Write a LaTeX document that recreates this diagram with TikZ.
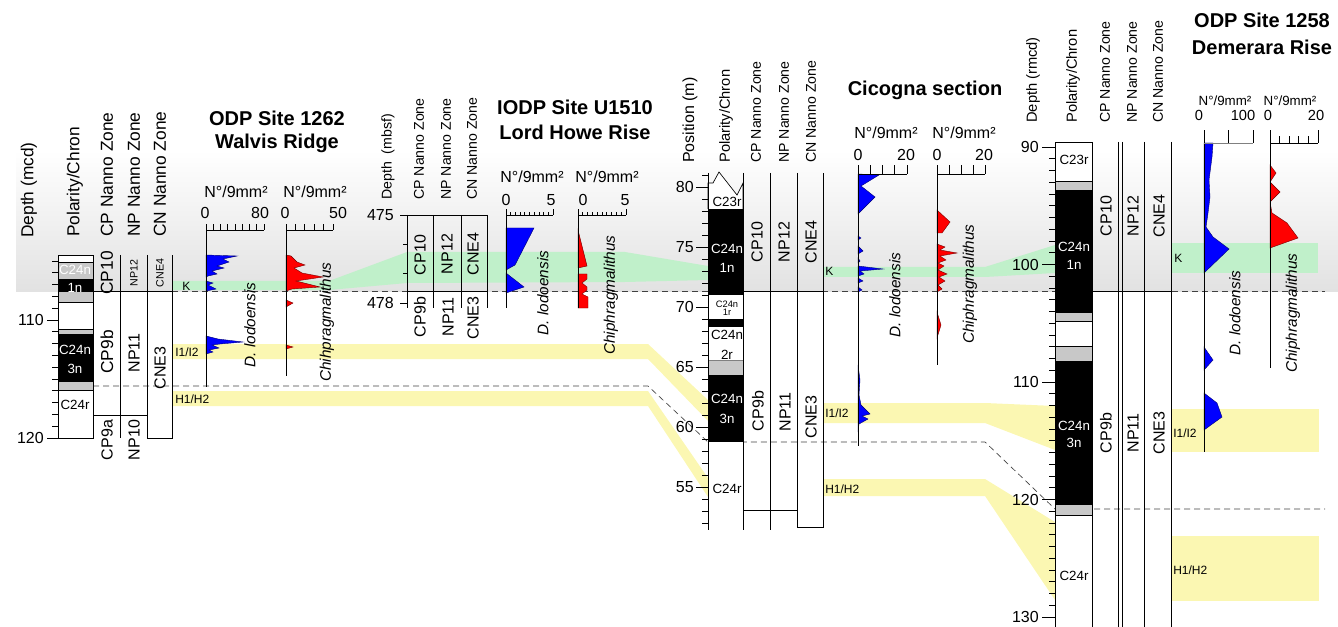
\documentclass[tikz,border=0pt]{standalone}
\usepackage{fontspec}
\setmainfont{Liberation Sans}
\usepackage{tikz}
\usetikzlibrary{calc}

\definecolor{kgreen}{RGB}{192,240,202}
\definecolor{hyellow}{RGB}{251,247,178}
\definecolor{polgray}{RGB}{200,200,200}
\definecolor{bggray}{RGB}{226,226,226}
\newcommand{\fsz}[1]{\fontsize{#1}{#1}\selectfont}

\tikzset{
  hdr/.style={rotate=90, anchor=west, inner sep=0pt, font=\fsz{13}},
  hdrs/.style={hdr, font=\fsz{10.6}},
  zlab/.style={rotate=90, inner sep=0pt, font=\fsz{12}},
  chr/.style={inner sep=0pt, font=\fsz{10}},
  chw/.style={chr, text=white},
  spec/.style={rotate=90, inner sep=0pt, font=\fsz{11.5}\itshape},
  ttl/.style={inner sep=0pt, font=\fsz{15}\bfseries},
  unitlab/.style={inner sep=0pt, font=\fsz{12}},
  deplab/.style={anchor=east, inner sep=0pt, font=\fsz{12}},
  blab/.style={anchor=west, inner sep=0pt, font=\fsz{9}},
  ax/.style={line width=0.6pt},
  colline/.style={line width=0.7pt},
  tie/.style={dash pattern=on 4.5pt off 3pt, line width=0.5pt, black!75},
  dlo/.style={fill=blue, draw=blue!45!black, line width=0.3pt},
  chi/.style={fill=red, draw=red!45!black, line width=0.3pt}
}

\begin{document}
\begin{tikzpicture}[x=0.75pt,y=-0.75pt]
\useasboundingbox (0,0) rectangle (1338,627);

% background shading
\shade[top color=white, bottom color=bggray] (16,150) rectangle (1338,291);

% K band
\fill[kgreen] (172,281) -- (329,281) -- (407,252) -- (625,252) -- (708,266)
  -- (708,280) -- (625,282) -- (407,283) -- (329,290) -- (172,290) -- cycle;
\fill[kgreen] (823,267) -- (985,267) -- (1055,245) -- (1055,273) -- (985,277) -- (823,277) -- cycle;
\fill[kgreen] (1171,243) rectangle (1318,273);
% I1/I2 band
\fill[hyellow] (172,344) -- (648,344) -- (708,400) -- (708,421) -- (648,359) -- (172,359) -- cycle;
\fill[hyellow] (823,403) -- (985,403) -- (1055,406) -- (1055,450) -- (985,423) -- (823,423) -- cycle;
\fill[hyellow] (1171,409) rectangle (1319,452);
% H1/H2 band
\fill[hyellow] (172,391) -- (648,391) -- (708,478) -- (708,497) -- (648,406) -- (172,406) -- cycle;
\fill[hyellow] (823,479) -- (985,479) -- (1055,522) -- (1055,600) -- (985,496) -- (823,496) -- cycle;
\fill[hyellow] (1171,536) rectangle (1319,601);

% tie lines
\draw[tie] (172,291) -- (1325,291);
\draw[tie] (93,386) -- (648,386) -- (708,442) -- (985,442) -- (1055,509) -- (1325,509);

%%% ODP Site 1262 - Walvis Ridge
\foreach \ya/\yb/\c in {255/262/white, 262/279/polgray, 279/291/black, 291/302/polgray,
    302/329/white, 329/334/polgray, 334/381/black, 381/390/polgray, 390/438/white}
  \filldraw[fill=\c, draw=black, line width=0.4pt] (58,\ya) rectangle (93,\yb);
\draw[colline] (58,255) rectangle (93,438);
\draw[colline] (120,255) -- (120,438);
\draw[colline] (147,255) -- (147,438) -- (172,438) -- (172,255);
\draw[colline] (93,291) -- (172,291);
\draw[colline] (93,415) -- (147,415);
\foreach \d in {105,...,120}
  \draw[ax] (52,{320+(\d-110)*11.8}) -- (58,{320+(\d-110)*11.8});
\draw[ax] (47,320) -- (58,320);
\draw[ax] (47,438) -- (58,438);
\node[deplab] (w110) at (44,320) {110};
\node[deplab] (w120) at (44,438) {120};

\node[hdr] (wdep) at (29,238) {Depth (mcd)};
\node[hdr] (wpol) at (75,237) {Polarity/Chron};
\node[hdr] (wcp) at (107,237) {CP Nanno Zone};
\node[hdr] (wnp) at (134,237) {NP Nanno Zone};
\node[hdr] (wcn) at (160,237) {CN Nanno Zone};

\node[chw] (wc1) at (75,270) {C24n};
\node[chw] (wc1b) at (75,288) {1n};
\node[chw] (wc3) at (75,350) {C24n};
\node[chw] (wc3b) at (75,369) {3n};
\node[chr] (wc4) at (75,405) {C24r};

\node[zlab, font=\fsz{13}] (wz1) at (107,273) {CP10};
\node[zlab, font=\fsz{8}] (wz2) at (134,273) {NP12};
\node[zlab, font=\fsz{8}] (wz3) at (160,273) {CNE4};
\node[zlab, font=\fsz{13}] (wz4) at (107,352) {CP9b};
\node[zlab] (wz5) at (134,353) {NP11};
\node[zlab] (wz6) at (160,368) {CNE3};
\node[zlab] (wz7) at (107,440) {CP9a};
\node[zlab] (wz8) at (134,440) {NP10};

\node[blab] (wk) at (182,286) {K};
\node[blab] (wi) at (175,352) {I1/I2};
\node[blab] (wh) at (175,399) {H1/H2};

\node[ttl] (wt1) at (277,118) {ODP Site 1262};
\node[ttl] (wt2) at (277,143) {Walvis Ridge};

\filldraw[dlo] (206,255) -- (237,256) -- (223,259) -- (229,262) -- (217,266) -- (224,268)
  -- (212,271) -- (217,274) -- (208,276) -- (206,277) -- cycle;
\filldraw[dlo] (206,281) -- (213,283) -- (208,285) -- (216,289) -- (206,291) -- cycle;
\filldraw[dlo] (206,336) -- (218,339) -- (243,342) -- (220,344) -- (212,345) -- (219,348)
  -- (209,350) -- (213,352) -- (206,354) -- cycle;
\filldraw[chi] (286,255) -- (291,256) -- (297,262) -- (305,265) -- (294,268) -- (302,273)
  -- (323,277) -- (296,281) -- (320,287) -- (292,289) -- (286,291) -- cycle;
\filldraw[chi] (286,300) -- (293,303) -- (286,307) -- cycle;
\filldraw[chi] (286,345) -- (293,347) -- (286,349) -- cycle;

\draw[ax] (206,230) -- (206,387);
\draw[ax] (206,230) -- (264,230);
\foreach \i in {0,...,8} \draw[ax] ({206+7.25*\i},230) -- ({206+7.25*\i},224);
\draw[ax] (286,230) -- (286,376);
\draw[ax] (286,230) -- (333,230);
\foreach \i in {0,...,5} \draw[ax] ({286+9.4*\i},230) -- ({286+9.4*\i},224);
\node[unitlab] (wu1) at (236,192) {N°/9mm²};
\node[unitlab] (wu2) at (315,192) {N°/9mm²};
\node[unitlab] (wa1) at (205,213) {0};
\node[unitlab] (wa2) at (260,213) {80};
\node[unitlab] (wa3) at (285,213) {0};
\node[unitlab] (wa4) at (338,213) {50};
\node[spec] (wsp1) at (250,325) {D. lodoensis};
\node[spec] (wsp2) at (327,322) {Chihpragmalithus};

%%% IODP Site U1510 - Lord Howe Rise
\draw[colline] (402,215) -- (487,215);
\foreach \x in {407,433,461,487} \draw[colline] (\x,215) -- (\x,308);
\draw[colline] (407,291) -- (487,291);
\foreach \d in {0,...,3} \draw[ax] (403,{215+\d*29.33}) -- (407,{215+\d*29.33});
\draw[ax] (400,215) -- (407,215);
\draw[ax] (400,303) -- (407,303);
\node[deplab] (l475) at (394,215) {475};
\node[deplab] (l478) at (394,303) {478};

\node[hdrs] (ldep) at (388,200) {Depth \ (mbsf)};
\node[hdrs] (lcp) at (419,200) {CP Nanno Zone};
\node[hdrs] (lnp) at (446,200) {NP Nanno Zone};
\node[hdrs] (lcn) at (472,200) {CN Nanno Zone};

\node[zlab] (lz1) at (420,255) {CP10};
\node[zlab] (lz2) at (447,254) {NP12};
\node[zlab] (lz3) at (473,254) {CNE4};
\node[zlab] (lz4) at (420,317) {CP9b};
\node[zlab] (lz5) at (448,317) {NP11};
\node[zlab] (lz6) at (473,318) {CNE3};

\node[ttl] (lt1) at (575,107) {IODP Site U1510};
\node[ttl] (lt2) at (575,132) {Lord Howe Rise};

\filldraw[dlo] (506,228) -- (534,228) -- (515,265) -- (506,270) -- cycle;
\filldraw[dlo] (506,273) -- (524,287) -- (506,293) -- cycle;
\filldraw[chi] (578,230) -- (587,266) -- (578,268) -- cycle;
\filldraw[chi] (578,274) -- (587,274) -- (587,279) -- (582,283) -- (587,287) -- (587,290)
  -- (582,294) -- (588,297) -- (588,308) -- (578,308) -- cycle;

\draw[ax] (506,215) -- (506,308);
\draw[ax] (506,215) -- (553,215);
\foreach \i in {0,...,10} \draw[ax] ({506+4.7*\i},215) -- ({506+4.7*\i},212);
\draw[ax] (506,215) -- (506,209);
\draw[ax] (553,215) -- (553,209);
\draw[ax] (578,215) -- (578,308);
\draw[ax] (578,215) -- (626,215);
\foreach \i in {0,...,10} \draw[ax] ({578+4.8*\i},215) -- ({578+4.8*\i},212);
\draw[ax] (578,215) -- (578,209);
\draw[ax] (626,215) -- (626,209);
\node[unitlab] (lu1) at (532,177) {N°/9mm²};
\node[unitlab] (lu2) at (607,177) {N°/9mm²};
\node[unitlab] (la1) at (506,200) {0};
\node[unitlab] (la2) at (551,200) {5};
\node[unitlab] (la3) at (583,200) {0};
\node[unitlab] (la4) at (625,200) {5};
\node[spec] (lsp1) at (543,293) {D. lodoensis};
\node[spec] (lsp2) at (611,295) {Chiphragmalithus};

%%% Cicogna section
\filldraw[fill=white, draw=black, line width=0.5pt] (708,209) -- (708,183) -- (713,183) -- (719,172)
  -- (737,195) -- (743,183) -- (743,209);
\foreach \ya/\yb/\c in {209/295/black, 295/319/white, 319/327/black, 327/360/white,
    360/375/polgray, 375/442/black, 442/530/white}
  \fill[\c] (708,\ya) rectangle (743,\yb);
\draw[ax, gray] (708,360) -- (743,360);
\draw[colline] (708,173) -- (708,530);
\draw[colline] (743,173) -- (743,530);
\draw[colline] (770,173) -- (770,530);
\draw[colline] (797,173) -- (797,527) -- (823,527) -- (823,173);
\draw[colline] (743,291) -- (823,291);
\draw[colline] (743,510) -- (797,510);
\foreach \p in {52,...,81}
  \draw[ax] (702,{187+(80-\p)*12}) -- (708,{187+(80-\p)*12});
\foreach \p in {55,60,...,80} {
  \draw[ax] (696,{187+(80-\p)*12}) -- (708,{187+(80-\p)*12});
  \node[deplab] (c\p) at (694,{187+(80-\p)*12}) {\p};
}

\node[hdr, font=\fsz{12}] (cpos) at (690,163) {Position (m)};
\node[hdrs, font=\fsz{11}] (cpol) at (726,163) {Polarity/Chron};
\node[hdrs] (ccp) at (756,163) {CP Nanno Zone};
\node[hdrs] (cnp) at (784,163) {NP Nanno Zone};
\node[hdrs] (ccn) at (811,163) {CN Nanno Zone};

\node[chr] (cc0) at (727,202) {C23r};
\node[chw] (cc1) at (727,249) {C24n};
\node[chw] (cc1b) at (727,268) {1n};
\node[chr, font=\fsz{7}] (cc2) at (727,304) {C24n};
\node[chr, font=\fsz{7}] (cc2b) at (727,312) {1r};
\node[chr] (cc3) at (727,335) {C24n};
\node[chr] (cc3b) at (727,355) {2r};
\node[chw] (cc4) at (727,399) {C24n};
\node[chw] (cc4b) at (727,419) {3n};
\node[chr] (cc5) at (727,489) {C24r};

\node[zlab] (cz1) at (757,242) {CP10};
\node[zlab] (cz2) at (784,242) {NP12};
\node[zlab] (cz3) at (811,242) {CNE4};
\node[zlab] (cz4) at (758,411) {CP9b};
\node[zlab] (cz5) at (785,412) {NP11};
\node[zlab] (cz6) at (811,417) {CNE3};

\node[blab] (ck) at (825,271) {K};
\node[blab] (ci) at (825,413) {I1/I2};
\node[blab] (ch) at (825,489) {H1/H2};

\node[ttl] (ct1) at (925,90) {Cicogna section};

\filldraw[dlo] (858,174) -- (879,175) -- (861,186) -- (875,197) -- (860,212) -- (858,214) -- cycle;
\filldraw[dlo] (858,236) -- (861,238) -- (858,240) -- cycle;
\filldraw[dlo] (858,246) -- (863,251) -- (858,254) -- cycle;
\filldraw[dlo] (858,258) -- (860,261) -- (858,263) -- cycle;
\filldraw[dlo] (858,266) -- (883,269) -- (860,271) -- (864,274) -- (858,276) -- cycle;
\filldraw[dlo] (858,278) -- (863,281) -- (858,283) -- cycle;
\filldraw[dlo] (858,287) -- (862,290) -- (858,292) -- cycle;
\filldraw[dlo] (858,365) -- (860,380) -- (859,395) -- (861,405) -- (870,414) -- (862,416)
  -- (868,419) -- (859,424) -- (858,432) -- cycle;
\filldraw[chi] (937,210) -- (950,222) -- (942,233) -- (937,233) -- cycle;
\filldraw[chi] (937,244) -- (945,247) -- (940,250) -- (957,253) -- (940,256) -- (946,260)
  -- (938,263) -- (944,266) -- (938,270) -- (947,274) -- (939,277) -- (945,281)
  -- (938,285) -- (942,289) -- (937,292) -- cycle;
\filldraw[chi] (937,312) -- (941,325) -- (937,338) -- cycle;

\draw[ax] (858,174) -- (858,446);
\draw[ax] (858,174) -- (907,174);
\foreach \i in {0,...,4} \draw[ax] ({858+12.25*\i},174) -- ({858+12.25*\i},165);
\draw[ax] (937,174) -- (937,365);
\draw[ax] (937,174) -- (985,174);
\foreach \i in {0,...,4} \draw[ax] ({937+12*\i},174) -- ({937+12*\i},165);
\node[unitlab] (cu1) at (886,133) {N°/9mm²};
\node[unitlab] (cu2) at (964,133) {N°/9mm²};
\node[unitlab] (ca1) at (858,155) {0};
\node[unitlab] (ca2) at (906,155) {20};
\node[unitlab] (ca3) at (937,155) {0};
\node[unitlab] (ca4) at (984,155) {20};
\node[spec] (csp1) at (895,295) {D. lodoensis};
\node[spec] (csp2) at (970,284) {Chiphragmalithus};

%%% ODP Site 1258 - Demerara Rise
\foreach \ya/\yb/\c in {142/181/white, 181/190/polgray, 190/312/black, 312/321/polgray,
    321/346/white, 346/361/polgray, 361/504/black, 504/515/polgray, 515/627/white}
  \filldraw[fill=\c, draw=black, line width=0.4pt] (1055,\ya) rectangle (1092,\yb);
\draw[colline] (1055,627) -- (1055,142) -- (1092,142) -- (1092,627);
\foreach \x in {1118,1122,1144,1171} \draw[colline] (\x,142) -- (\x,627);
\draw[colline] (1092,291) -- (1171,291);
\foreach \d in {90,...,130}
  \draw[ax] (1049,{147+(\d-90)*11.75}) -- (1055,{147+(\d-90)*11.75});
\foreach \d in {90,100,...,130} {
  \draw[ax] (1042,{147+(\d-90)*11.75}) -- (1055,{147+(\d-90)*11.75});
  \node[deplab] (d\d) at (1039,{147+(\d-90)*11.75}) {\d};
}

\node[hdrs, font=\fsz{11}] (ddep) at (1033,123) {Depth (rmcd)};
\node[hdrs, font=\fsz{11}] (dpol) at (1073,123) {Polarity/Chron};
\node[hdrs] (dcp) at (1105,123) {CP Nanno Zone};
\node[hdrs] (dnp) at (1132,123) {NP Nanno Zone};
\node[hdrs] (dcn) at (1158,123) {CN Nanno Zone};

\node[chr] (dc0) at (1074,160) {C23r};
\node[chw] (dc1) at (1074,247) {C24n};
\node[chw] (dc1b) at (1074,265) {1n};
\node[chw] (dc2) at (1074,426) {C24n};
\node[chw] (dc2b) at (1074,443) {3n};
\node[chr] (dc3) at (1074,576) {C24r};

\node[zlab] (dz1) at (1106,216) {CP10};
\node[zlab] (dz2) at (1133,216) {NP12};
\node[zlab] (dz3) at (1159,216) {CNE4};
\node[zlab] (dz4) at (1106,433) {CP9b};
\node[zlab] (dz5) at (1133,433) {NP11};
\node[zlab] (dz6) at (1159,433) {CNE3};

\node[blab] (dk) at (1174,258) {K};
\node[blab] (di) at (1173,433) {I1/I2};
\node[blab] (dh) at (1173,570) {H1/H2};

\node[ttl] (dt1) at (1262,20) {ODP Site 1258};
\node[ttl] (dt2) at (1262,47) {Demerara Rise};

\filldraw[dlo] (1204,143) -- (1213,143) -- (1212,157) -- (1209,180) -- (1210,197) -- (1208,213)
  -- (1206,227) -- (1213,237) -- (1229,249) -- (1204,273) -- cycle;
\filldraw[dlo] (1204,347) -- (1213,360) -- (1204,370) -- cycle;
\filldraw[dlo] (1204,393) -- (1217,403) -- (1222,417) -- (1204,430) -- cycle;
\filldraw[chi] (1270,165) -- (1276,173) -- (1270,182) -- (1280,192) -- (1270,202) -- (1272,213)
  -- (1287,223) -- (1298,238) -- (1270,248) -- cycle;

\draw[ax] (1204,143) -- (1204,452);
\draw[ax, gray] (1204,143) -- (1253,143);
\foreach \i in {0,1,2} \draw[ax] ({1204+24.5*\i},143) -- ({1204+24.5*\i},130);
\draw[ax] (1270,143) -- (1270,368);
\draw[ax] (1270,143) -- (1318,143);
\foreach \i in {1,...,4} \draw[ax] ({1270+9.6*\i},143) -- ({1270+9.6*\i},136);
\draw[ax] (1270,143) -- (1270,130);
\draw[ax] (1318,143) -- (1318,130);
\node[unitlab, font=\fsz{10}] (du1) at (1225,101) {N°/9mm²};
\node[unitlab, font=\fsz{10}] (du2) at (1290,101) {N°/9mm²};
\node[unitlab, font=\fsz{11}] (da1) at (1199,115) {0};
\node[unitlab, font=\fsz{11}] (da2) at (1243,115) {100};
\node[unitlab, font=\fsz{11}] (da3) at (1268,115) {0};
\node[unitlab, font=\fsz{11}] (da4) at (1316,115) {20};
\node[spec] (dsp1) at (1235,313) {D. lodoensis};
\node[spec] (dsp2) at (1293,313) {Chiphragmalithus};

\end{tikzpicture}
\end{document}
